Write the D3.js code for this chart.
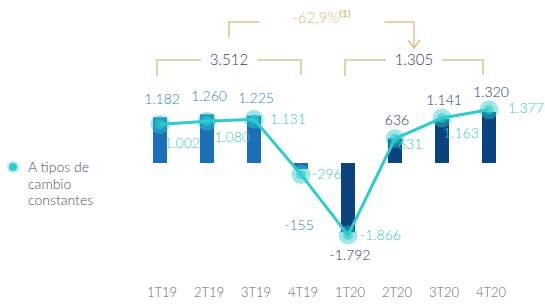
<!DOCTYPE html>
<html>
<head>
<meta charset="utf-8">
<script src="https://cdn.jsdelivr.net/npm/d3@7"></script>
<style>
  body { margin: 0; background: #fff; }
  svg { font-family: Lato, "Open Sans", sans-serif; font-weight: 300; }
</style>
</head>
<body>
<svg id="chart" width="545" height="305"></svg>
<script>
// quarters and values (millions)
const quarters = ["1T19", "2T19", "3T19", "4T19", "1T20", "2T20", "3T20", "4T20"];
const reported = [1182, 1260, 1225, -155, -1792, 636, 1141, 1320];
const constantFx = [1002, 1080, 1131, -296, -1866, 631, 1163, 1377];
const barLabels = ["1.182", "1.260", "1.225", "-155", "-1.792", "636", "1.141", "1.320"];
const lineLabels = ["1.002", "1.080", "1.131", "-296", "-1.866", "631", "1.163", "1.377"];
const years = [
    { label: "3.512", from: "1T19", to: "4T19" },
    { label: "1.305", from: "1T20", to: "4T20" }
];
const changeLabel = "-62,9%";
const legendLines = ["A tipos de", "cambio", "constantes"];

// little nudges for the teal labels so they dodge the line
const lineLabelNudge = [[22, 24], [25, 21], [16, 5], [11, 5], [12, 5], [3, 10], [1, 20], [19, 3]];

const svg = d3.select("#chart");
const gold = "#dcc58c";
const teal = "#2dcccd";

const x = d3.scalePoint().domain(quarters).range([160, 489]);
const y = d3.scaleLinear().domain([-2000, 1500]).range([240.3, 105]);
const barW = 14;

// bars
svg.append("g").selectAll("rect").data(reported).enter().append("rect")
    .attr("x", (d, i) => x(quarters[i]) - barW / 2)
    .attr("y", d => y(Math.max(0, d)))
    .attr("width", barW)
    .attr("height", d => Math.abs(y(d) - y(0)))
    .attr("fill", (d, i) => i < 4 ? "#1a6fb8" : "#0b437f");

// line + dots
const line = d3.line().x((d, i) => x(quarters[i])).y(d => y(d));
svg.append("path").datum(constantFx).attr("d", line)
    .attr("fill", "none").attr("stroke", teal).attr("stroke-width", 3);
const dots = svg.append("g").selectAll("g").data(constantFx).enter().append("g")
    .attr("transform", (d, i) => `translate(${x(quarters[i])},${y(d)})`);
dots.append("circle").attr("r", 9.5).attr("fill", teal).attr("opacity", 0.45);
dots.append("circle").attr("r", 5).attr("fill", teal).attr("opacity", 0.6);

// bar value labels
svg.append("g").selectAll("text").data(reported).enter().append("text")
    .attr("x", (d, i) => i == 3 ? x(quarters[i]) - 2 : x(quarters[i]) + 2)
    .attr("y", (d, i) => {
        if (d >= 0) return Math.min(y(d), y(constantFx[i])) - 13;
        return i == 3 ? y(d) + 61 : y(d) + 28;
    })
    .attr("text-anchor", "middle").attr("font-size", 14)
    .attr("fill", (d, i) => i < 4 ? "#2f7fc4" : "#233c6b")
    .text((d, i) => barLabels[i]);

// constant fx labels
svg.append("g").selectAll("text").data(constantFx).enter().append("text")
    .attr("x", (d, i) => x(quarters[i]) + lineLabelNudge[i][0])
    .attr("y", (d, i) => y(d) + lineLabelNudge[i][1])
    .attr("text-anchor", (d, i) => i < 2 ? "middle" : "start")
    .attr("font-size", 14).attr("fill", "#3cc6c6")
    .text((d, i) => lineLabels[i]);

// yearly brackets
const bracketY = 60;
const mids = [];
years.forEach(yr => {
    const x0 = x(yr.from) - 3, x1 = x(yr.to) - 3 + (yr.from == "1T19" ? 3 : -3);
    const mid = (x0 + x1) / 2;
    mids.push(mid);
    const g = svg.append("g").attr("fill", "none").attr("stroke", gold).attr("stroke-width", 1.5);
    g.append("path").attr("d", `M${x0},${bracketY + 16}V${bracketY}H${mid - 28}`);
    g.append("path").attr("d", `M${mid + 28},${bracketY}H${x1}V${bracketY + 15}`);
    svg.append("text").attr("x", mid).attr("y", bracketY + 5).attr("text-anchor", "middle")
        .attr("font-size", 15).attr("fill", "#2a3f6e").text(yr.label);
});

// change annotation at the top
const topY = 22;
const midTop = (mids[0] + mids[1]) / 2;
const tg = svg.append("g").attr("fill", "none").attr("stroke", gold).attr("stroke-width", 1.5);
tg.append("path").attr("d", `M${mids[0]},${topY + 16}V${topY}H${midTop - 62}`);
tg.append("path").attr("d", `M${midTop + 63},${topY}H${mids[1]}V${topY + 26}`);
tg.append("path").attr("d", `M${mids[1] - 6},${topY + 18}L${mids[1]},${topY + 26}L${mids[1] + 6},${topY + 18}`);
const ct = svg.append("text").attr("x", midTop).attr("y", topY + 1).attr("text-anchor", "middle")
    .attr("font-size", 15).attr("fill", "#d9bd7b");
ct.append("tspan").text(changeLabel);
ct.append("tspan").attr("font-size", 10).attr("font-weight", "bold").attr("dy", -6).text("(1)");

// quarter labels
svg.append("g").selectAll("text").data(quarters).enter().append("text")
    .attr("x", d => x(d) + 2).attr("y", 297).attr("text-anchor", "middle")
    .attr("font-size", 13).attr("fill", "#5b6987").text(d => d);

// legend
const lg = svg.append("g").attr("transform", "translate(13,167)");
lg.append("circle").attr("r", 6).attr("fill", teal).attr("opacity", 0.35);
lg.append("circle").attr("r", 4).attr("fill", teal);
lg.selectAll("text").data(legendLines).enter().append("text")
    .attr("x", 15).attr("y", (d, i) => 5 + i * 16.5)
    .attr("font-size", 14).attr("fill", "#45506e").text(d => d);
</script>
</body>
</html>
